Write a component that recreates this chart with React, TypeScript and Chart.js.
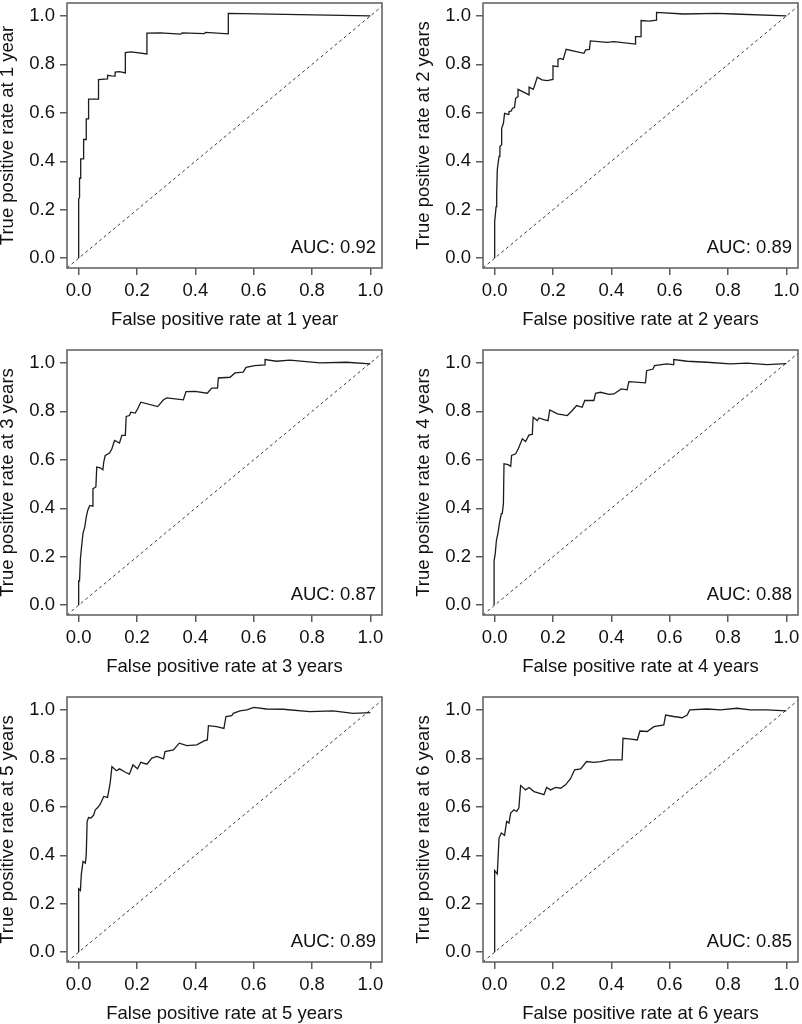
import React, { useEffect, useRef } from "react";
import { Chart, registerables } from "chart.js";

Chart.register(...registerables);

const TICK_VALUES = [0, 0.2, 0.4, 0.6, 0.8, 1.0];
const HORIZONS = ["1 year", "2 years", "3 years", "4 years", "5 years", "6 years"];
const AUC_VALUES = ["0.92", "0.89", "0.87", "0.88", "0.89", "0.85"];

const fpr1 = [0, 0, 0.003, 0.003, 0.007, 0.007, 0.017, 0.017, 0.026, 0.026, 0.034, 0.034, 0.068, 0.068, 0.099, 0.099, 0.112, 0.125, 0.125, 0.14, 0.16, 0.16, 0.18, 0.234, 0.234, 0.28, 0.35, 0.355, 0.43, 0.435, 0.513, 0.513, 1.0];
const tpr1 = [0, 0.245, 0.25, 0.33, 0.33, 0.41, 0.41, 0.49, 0.49, 0.575, 0.575, 0.657, 0.657, 0.737, 0.74, 0.755, 0.753, 0.752, 0.768, 0.77, 0.765, 0.849, 0.852, 0.843, 0.929, 0.93, 0.925, 0.93, 0.927, 0.932, 0.926, 1.011, 1.0];

const fpr2 = [0, 0, 0.005, 0.007, 0.009, 0.015, 0.018, 0.024, 0.024, 0.03, 0.034, 0.046, 0.049, 0.057, 0.061, 0.068, 0.072, 0.08, 0.08, 0.118, 0.118, 0.132, 0.135, 0.146, 0.162, 0.18, 0.2, 0.2, 0.215, 0.217, 0.224, 0.235, 0.245, 0.306, 0.312, 0.325, 0.328, 0.386, 0.409, 0.483, 0.483, 0.502, 0.502, 0.529, 0.555, 0.555, 0.648, 0.763, 0.82, 1.0];
const tpr2 = [0, 0.151, 0.213, 0.271, 0.365, 0.42, 0.461, 0.468, 0.536, 0.557, 0.598, 0.594, 0.605, 0.608, 0.619, 0.622, 0.66, 0.667, 0.697, 0.674, 0.706, 0.697, 0.706, 0.747, 0.736, 0.733, 0.738, 0.794, 0.791, 0.821, 0.825, 0.821, 0.862, 0.846, 0.86, 0.862, 0.897, 0.891, 0.894, 0.884, 0.915, 0.915, 0.981, 0.979, 0.983, 1.015, 1.008, 1.011, 1.008, 1.0];

const fpr3 = [0, 0, 0.003, 0.006, 0.011, 0.015, 0.021, 0.026, 0.031, 0.038, 0.049, 0.049, 0.059, 0.062, 0.074, 0.083, 0.086, 0.091, 0.106, 0.114, 0.123, 0.14, 0.148, 0.16, 0.163, 0.174, 0.179, 0.194, 0.202, 0.213, 0.271, 0.291, 0.302, 0.359, 0.368, 0.399, 0.441, 0.456, 0.476, 0.479, 0.519, 0.536, 0.564, 0.574, 0.604, 0.639, 0.639, 0.678, 0.724, 0.827, 0.918, 1.0];
const tpr3 = [0, 0.1, 0.1, 0.192, 0.254, 0.298, 0.323, 0.364, 0.391, 0.412, 0.409, 0.481, 0.488, 0.57, 0.567, 0.559, 0.591, 0.618, 0.628, 0.646, 0.68, 0.669, 0.701, 0.701, 0.779, 0.783, 0.797, 0.793, 0.81, 0.838, 0.82, 0.848, 0.856, 0.848, 0.882, 0.883, 0.875, 0.896, 0.896, 0.938, 0.941, 0.959, 0.962, 0.982, 0.989, 0.992, 1.014, 1.007, 1.012, 1.0, 1.003, 0.996];

const fpr4 = [-0.002, -0.002, 0.002, 0.006, 0.011, 0.017, 0.023, 0.026, 0.03, 0.032, 0.046, 0.055, 0.058, 0.072, 0.081, 0.095, 0.106, 0.118, 0.129, 0.132, 0.146, 0.152, 0.169, 0.183, 0.189, 0.215, 0.249, 0.266, 0.281, 0.3, 0.309, 0.34, 0.346, 0.363, 0.392, 0.409, 0.434, 0.454, 0.46, 0.517, 0.521, 0.543, 0.548, 0.591, 0.612, 0.614, 0.66, 0.728, 0.808, 0.865, 0.934, 1.0];
const tpr4 = [0, 0.183, 0.213, 0.268, 0.295, 0.343, 0.378, 0.378, 0.419, 0.584, 0.58, 0.573, 0.618, 0.625, 0.646, 0.687, 0.676, 0.703, 0.705, 0.776, 0.762, 0.773, 0.766, 0.762, 0.806, 0.79, 0.783, 0.804, 0.824, 0.817, 0.845, 0.845, 0.875, 0.879, 0.87, 0.872, 0.893, 0.889, 0.923, 0.918, 0.968, 0.975, 0.989, 0.996, 0.993, 1.014, 1.007, 1.003, 0.996, 0.999, 0.993, 0.997];

const fpr5 = [0, 0, 0.006, 0.009, 0.015, 0.023, 0.026, 0.029, 0.034, 0.042, 0.051, 0.057, 0.066, 0.074, 0.086, 0.099, 0.108, 0.114, 0.129, 0.14, 0.16, 0.174, 0.186, 0.202, 0.213, 0.234, 0.251, 0.268, 0.291, 0.296, 0.325, 0.345, 0.371, 0.405, 0.43, 0.441, 0.445, 0.473, 0.498, 0.505, 0.525, 0.53, 0.553, 0.576, 0.601, 0.644, 0.701, 0.792, 0.872, 0.941, 1.0];
const tpr5 = [0, 0.262, 0.255, 0.32, 0.375, 0.368, 0.402, 0.54, 0.556, 0.554, 0.565, 0.588, 0.598, 0.611, 0.643, 0.639, 0.698, 0.766, 0.749, 0.757, 0.743, 0.735, 0.773, 0.757, 0.784, 0.776, 0.801, 0.808, 0.798, 0.828, 0.835, 0.863, 0.853, 0.856, 0.872, 0.876, 0.935, 0.931, 0.924, 0.973, 0.977, 0.986, 0.996, 1.0, 1.011, 1.004, 1.003, 0.993, 0.996, 0.986, 0.989];

const fpr6 = [0, 0, 0.009, 0.015, 0.023, 0.034, 0.041, 0.049, 0.055, 0.066, 0.075, 0.083, 0.089, 0.106, 0.118, 0.135, 0.152, 0.169, 0.178, 0.192, 0.209, 0.226, 0.243, 0.26, 0.274, 0.295, 0.315, 0.34, 0.363, 0.392, 0.437, 0.44, 0.46, 0.489, 0.498, 0.523, 0.546, 0.58, 0.586, 0.614, 0.643, 0.66, 0.669, 0.728, 0.774, 0.831, 0.877, 0.934, 1.0];
const tpr6 = [0, 0.337, 0.323, 0.471, 0.492, 0.482, 0.54, 0.533, 0.574, 0.588, 0.581, 0.595, 0.688, 0.67, 0.68, 0.663, 0.657, 0.65, 0.68, 0.67, 0.68, 0.677, 0.691, 0.716, 0.753, 0.757, 0.787, 0.784, 0.787, 0.794, 0.794, 0.883, 0.881, 0.876, 0.913, 0.911, 0.931, 0.938, 0.979, 0.973, 0.968, 0.979, 1.0, 1.004, 1.0, 1.007, 1.0, 1.0, 0.996];

const FPRS = [fpr1, fpr2, fpr3, fpr4, fpr5, fpr6];
const TPRS = [tpr1, tpr2, tpr3, tpr4, tpr5, tpr6];

const FONT_FAMILY = '"Liberation Sans", Arial, Helvetica, sans-serif';
const FONT_SIZE = 18.5;
const CANVAS_W = 401;
const CANVAS_H = 347;

const framePlugin = {
  id: "frame",
  afterDraw(chart: any, _args: any, opts: any) {
    const { ctx, chartArea: a } = chart;
    ctx.save();
    ctx.strokeStyle = "#5c5c5c";
    ctx.lineWidth = 1.5;
    ctx.strokeRect(a.left, a.top, a.right - a.left, a.bottom - a.top);
    ctx.fillStyle = "#111";
    ctx.font = `${FONT_SIZE}px ${FONT_FAMILY}`;
    ctx.textAlign = "right";
    ctx.textBaseline = "middle";
    ctx.fillText("AUC: " + opts.auc, a.right - 6, a.bottom - 20);
    ctx.restore();
  },
};

function RocPanel({ index }: { index: number }) {
  const ref = useRef<HTMLCanvasElement | null>(null);
  useEffect(() => {
    if (!ref.current) return;
    const points = FPRS[index].map((x, i) => ({ x, y: TPRS[index][i] }));
    const font = { family: FONT_FAMILY, size: FONT_SIZE, lineHeight: 1 };
    const chart = new Chart(ref.current, {
      type: "line",
      data: {
        datasets: [
          {
            data: points,
            borderColor: "#1c1c1c",
            borderWidth: 1.3,
            pointRadius: 0,
            tension: 0,
            fill: false,
          },
          {
            data: [
              { x: -0.04, y: -0.04 },
              { x: 1.04, y: 1.04 },
            ],
            borderColor: "#3a3a3a",
            borderWidth: 1,
            borderDash: [3, 3],
            pointRadius: 0,
            fill: false,
          },
        ],
      },
      options: {
        responsive: false,
        animation: false,
        events: [],
        layout: { padding: { left: 0, right: 19, top: 3, bottom: 0 } },
        plugins: {
          legend: { display: false },
          tooltip: { enabled: false },
          frame: { auc: AUC_VALUES[index] },
        } as any,
        scales: {
          x: {
            type: "linear",
            min: -0.04,
            max: 1.04,
            afterBuildTicks: (s: any) => {
              s.ticks = TICK_VALUES.map((v) => ({ value: v }));
            },
            afterFit: (s: any) => {
              s.height = 79;
              s.paddingLeft = 0;
              s.paddingRight = 0;
              s.paddingTop = 0;
              s.paddingBottom = 0;
            },
            ticks: {
              color: "#111",
              font,
              padding: 7,
              maxRotation: 0,
              autoSkip: false,
              callback: (v: any) => Number(v).toFixed(1),
            },
            grid: {
              drawOnChartArea: false,
              drawTicks: true,
              tickLength: 7,
              color: "#5c5c5c",
              lineWidth: 1.5,
            },
            border: { display: false },
            title: {
              display: true,
              text: "False positive rate at " + HORIZONS[index],
              color: "#111",
              font,
              padding: { top: 0, bottom: 18 },
            },
          },
          y: {
            type: "linear",
            min: -0.0405,
            max: 1.0535,
            afterBuildTicks: (s: any) => {
              s.ticks = TICK_VALUES.map((v) => ({ value: v }));
            },
            afterFit: (s: any) => {
              s.width = 67;
              s.paddingLeft = 0;
              s.paddingRight = 0;
              s.paddingTop = 0;
              s.paddingBottom = 0;
            },
            ticks: {
              color: "#111",
              font,
              padding: 5,
              autoSkip: false,
              callback: (v: any) => Number(v).toFixed(1),
            },
            grid: {
              drawOnChartArea: false,
              drawTicks: true,
              tickLength: 7,
              color: "#5c5c5c",
              lineWidth: 1.5,
            },
            border: { display: false },
            title: {
              display: true,
              text: "True positive rate at " + HORIZONS[index],
              color: "#111",
              font,
              padding: { top: -1, bottom: 0 },
            },
          },
        },
      },
      plugins: [framePlugin],
    } as any);
    return () => chart.destroy();
  }, [index]);

  const col = index % 2;
  const row = Math.floor(index / 2);
  return (
    <canvas
      ref={ref}
      width={CANVAS_W}
      height={CANVAS_H}
      style={{ position: "absolute", left: col * 416, top: row * 347, width: CANVAS_W, height: CANVAS_H }}
    />
  );
}

export default function App() {
  return (
    <div
      style={{
        position: "absolute",
        left: 0,
        top: 0,
        width: 802,
        height: 1024,
        overflow: "hidden",
        background: "#fff",
      }}
    >
      {[0, 1, 2, 3, 4, 5].map((i) => (
        <RocPanel key={i} index={i} />
      ))}
    </div>
  );
}
